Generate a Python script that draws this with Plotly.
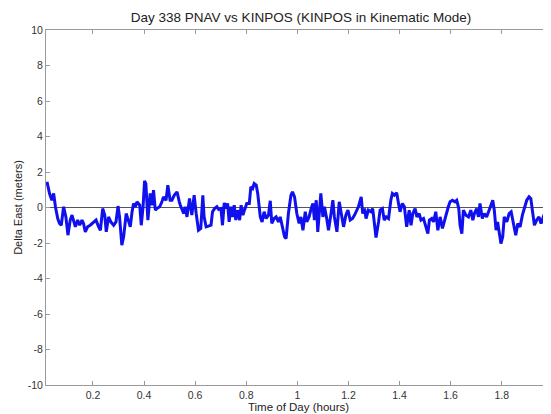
import plotly.graph_objects as go

# Time of day (hours)
time_hours = [
    0.020, 0.030, 0.039, 0.046, 0.053, 0.062, 0.069, 0.076, 0.085, 0.094,
    0.102, 0.111, 0.118, 0.124, 0.131, 0.140, 0.148, 0.157, 0.163, 0.170,
    0.179, 0.189, 0.203, 0.212, 0.222, 0.229, 0.238, 0.246, 0.252, 0.261,
    0.270, 0.281, 0.290, 0.298, 0.304, 0.313, 0.320, 0.330, 0.338, 0.346,
    0.353, 0.359, 0.366, 0.372, 0.383, 0.389, 0.396, 0.402, 0.407, 0.415,
    0.424, 0.431, 0.437, 0.444, 0.450, 0.461, 0.470, 0.476, 0.486, 0.493,
    0.502, 0.509, 0.518, 0.529, 0.538,
    0.542, 0.555, 0.561, 0.568, 0.578, 0.587, 0.596, 0.604, 0.613, 0.622,
    0.630, 0.635, 0.643, 0.652, 0.662, 0.668, 0.676, 0.685, 0.692, 0.701,
    0.707, 0.714, 0.720, 0.727, 0.733, 0.740, 0.746, 0.753, 0.759, 0.766,
    0.774, 0.780, 0.787, 0.793, 0.802, 0.812, 0.818, 0.825, 0.831, 0.839,
    0.845, 0.855, 0.862, 0.870, 0.878, 0.887, 0.894, 0.900, 0.909, 0.917,
    0.926, 0.933, 0.941, 0.950, 0.956, 0.965, 0.975, 0.981, 0.989, 0.998,
    1.007, 1.014, 1.022, 1.031, 1.037, 1.046, 1.054, 1.061, 1.067, 1.074,
    1.080, 1.087, 1.092, 1.100, 1.106, 1.115, 1.122, 1.131, 1.139, 1.145,
    1.155, 1.164, 1.171, 1.181, 1.190, 1.198, 1.207, 1.216, 1.224, 1.233,
    1.239,
    1.250, 1.256, 1.263, 1.269, 1.278, 1.288, 1.295, 1.302, 1.308, 1.318,
    1.324, 1.333, 1.340, 1.348, 1.357, 1.366, 1.372, 1.380, 1.389, 1.396,
    1.402, 1.411, 1.419, 1.428, 1.438, 1.445, 1.452, 1.461, 1.468, 1.477,
    1.484, 1.494, 1.503, 1.511, 1.517, 1.526, 1.533, 1.542, 1.550, 1.559,
    1.568, 1.576, 1.582, 1.591, 1.598, 1.607, 1.617, 1.624, 1.632, 1.637,
    1.644, 1.650, 1.660, 1.670, 1.679, 1.687, 1.693, 1.702, 1.709, 1.715,
    1.724, 1.732, 1.741, 1.750, 1.758, 1.765, 1.771, 1.778, 1.784, 1.791,
    1.797, 1.804, 1.810, 1.820, 1.829, 1.837, 1.846, 1.855, 1.863, 1.872,
    1.881, 1.889, 1.898, 1.907, 1.914, 1.920, 1.928, 1.937, 1.946, 1.954,
    1.963, 1.970, 1.979, 1.987, 1.993,
]

# Delta East (meters)
delta_east = [
    1.45, 0.79, 0.41, 0.79, 0.04, -0.62, -0.90, -1.00, 0.04, -0.53,
    -1.56, -0.71, -0.43, -0.81, -1.09, -0.71, -1.00, -0.71, -0.90, -1.37,
    -1.09, -1.00, -0.81, -0.71, -1.09, -1.28, -0.06, -0.43, -1.37, -0.53,
    -0.81, -1.00, -0.81, 0.08, -0.53, -2.12, -1.65, -0.34, -0.71, -1.09,
    -0.24, 0.23, 0.04, 0.32, 0.13, -1.00, 0.04, 1.50, 1.35, -0.71,
    0.79, 0.13, 0.98, -0.15, -0.06, 0.04, 0.32, 0.60, 0.41, 1.26,
    0.41, 0.41, 0.69, 0.88, 0.32,
    0.13, -0.34, 0.04, -0.53, 0.51, -0.43, 0.69, -0.34, -1.28, -1.18,
    0.69, -0.53, -1.09, -1.05, -1.00, -0.24, -0.06, 0.04, -0.11, -0.06,
    -1.00, 0.26, -0.06, 0.23, -0.81, 0.04, -0.53, 0.13, -0.71, -0.15,
    -0.71, 0.13, -0.43, -0.15, 0.23, 0.23, 1.16, 1.07, 1.35, 1.26,
    0.79, -0.53, -0.81, -0.24, -0.62, -0.43, 0.38, -0.90, -0.62, -0.53,
    -0.81, -0.53, -1.09, -1.65, -1.75, -0.34, 0.69, 0.88, 0.60, -0.34,
    -0.90, -0.53, -1.28, -0.24, -0.81, -0.53, -0.06, 0.23, -0.71, 0.41,
    -1.37, -0.34, 0.79, -0.53, 0.04, -0.62, -1.28, -0.43, 0.41, -0.53,
    -1.37, 0.32, -0.34, -1.09, -0.43, -0.15, -0.71, -0.62, -0.43, -0.15,
    0.04,
    0.60, -0.34, -0.06, -0.62, -0.15, -0.24, -0.06, -0.81, -1.69, -0.81,
    -0.15, -0.06, -0.71, -0.53, -0.62, 0.41, 0.79, 0.69, 0.83, 0.23,
    -0.24, 0.23, 0.04, -1.09, -0.15, -1.00, -0.34, -0.06, -0.53, -0.34,
    -0.71, -0.62, -1.09, -1.47, -0.71, -0.62, -0.81, -0.24, -1.28, -0.53,
    -1.18, -0.71, -0.43, 0.04, 0.32, 0.41, 0.32, 0.41, -0.06, -1.00,
    -1.47, -0.15, -0.43, -0.53, -0.15, -0.71, -0.34, -0.06, -0.53, 0.23,
    -0.62, -0.34, -0.53, -0.15, 0.23, 0.41, -0.15, -1.28, -0.81, -1.37,
    -2.03, -1.65, -0.53, -0.81, -0.34, -0.24, -0.81, -1.56, -0.90, -1.09,
    -0.43, -0.06, 0.41, 0.60, 0.51, -0.15, -1.00, -0.71, -0.53, -0.90,
    -0.53, -0.24, -0.43, -0.71, -0.81,
]

x_tick_vals = [0.2, 0.4, 0.6, 0.8, 1.0, 1.2, 1.4, 1.6, 1.8]
x_tick_text = ["0.2", "0.4", "0.6", "0.8", "1", "1.2", "1.4", "1.6", "1.8"]
x_edge_tick_text = "2"
y_tick_vals = [-10, -8, -6, -4, -2, 0, 2, 4, 6, 8, 10]
y_tick_text = ["-10", "-8", "-6", "-4", "-2", "0", "2", "4", "6", "8", "10"]

X_RANGE = [0.0161, 1.993]

FONT = "Liberation Sans, Arial, sans-serif"
AXIS_COLOR = "#9a9a9a"
TEXT_COLOR = "#333333"

W, H = 543, 406

fig = go.Figure()
fig.add_trace(go.Scatter(
    x=time_hours, y=delta_east, mode="lines",
    line=dict(color="#1010ee", width=3),
    showlegend=False, hoverinfo="skip",
))

fig.update_layout(
    width=W, height=H,
    margin=dict(l=38, r=0, t=22, b=29, pad=0),
    paper_bgcolor="white", plot_bgcolor="white",
    font=dict(family=FONT, size=10.5, color=TEXT_COLOR),
    title=dict(
        text="Day 338 PNAV vs KINPOS (KINPOS in Kinematic Mode)",
        x=0.505, xref="paper", xanchor="center",
        y=1 - 9 / H, yref="container", yanchor="middle",
        font=dict(family=FONT, size=13.5, color="#222222"),
    ),
    xaxis=dict(
        range=X_RANGE, autorange=False,
        tickvals=x_tick_vals, ticktext=x_tick_text,
        ticks="inside", ticklen=4, tickcolor=AXIS_COLOR, tickwidth=1,
        showline=True, linecolor=AXIS_COLOR, linewidth=1, mirror="ticks",
        showgrid=False, zeroline=False,
        tickfont=dict(family=FONT, size=10.5, color=TEXT_COLOR),
        title=dict(text="Time of Day (hours)", standoff=0,
                   font=dict(family=FONT, size=11.5, color="#222222")),
        automargin=False,
    ),
    yaxis=dict(
        range=[-10, 10], autorange=False,
        tickvals=y_tick_vals, ticktext=y_tick_text,
        ticks="inside", ticklen=4, tickcolor=AXIS_COLOR, tickwidth=1,
        showline=True, linecolor=AXIS_COLOR, linewidth=1,
        showgrid=False,
        zeroline=True, zerolinecolor="#555555", zerolinewidth=1,
        tickfont=dict(family=FONT, size=10.5, color=TEXT_COLOR),
        title=dict(text="Delta East (meters)", standoff=2,
                   font=dict(family=FONT, size=11, color="#222222")),
        automargin=False,
    ),
    annotations=[dict(
        text=x_edge_tick_text,
        x=(2.0 - X_RANGE[0]) / (X_RANGE[1] - X_RANGE[0]), y=0,
        xref="paper", yref="paper",
        showarrow=False, yanchor="top", yshift=-3,
        font=dict(family=FONT, size=10.5, color=TEXT_COLOR),
    )],
)

fig.write_html("out.html")
